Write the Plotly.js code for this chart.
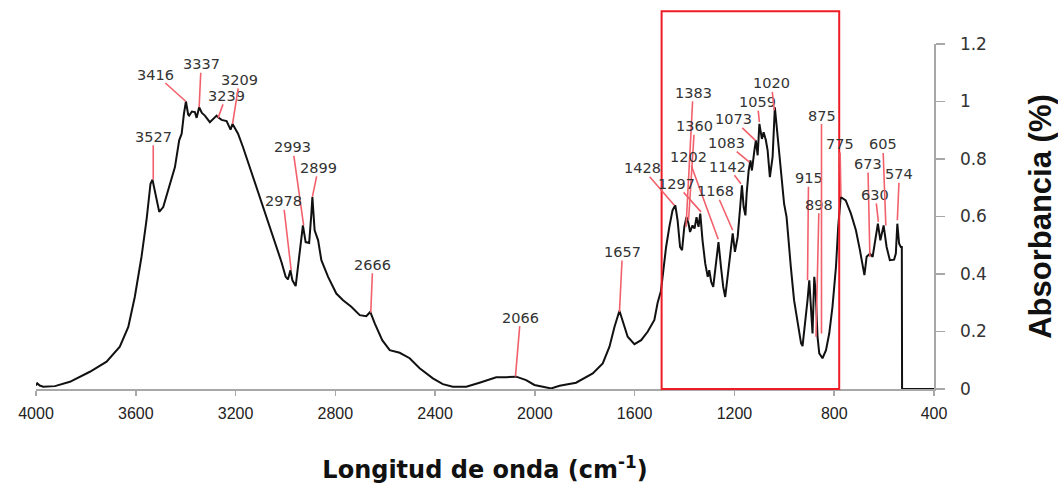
<!DOCTYPE html>
<html>
<head>
<meta charset="utf-8">
<script src="https://cdn.plot.ly/plotly-3.0.1.min.js"></script>
<style>
html,body{margin:0;padding:0;background:#fff;}
#chart{width:1058px;height:487px;}
</style>
</head>
<body>
<div id="chart"></div>
<script>
// Spectrum
const wavenumber = [4000,3995,3985,3971,3924,3864,3784,3717,3664,3630,3604,3577,3557,3541,3533,3519,3506,3490,3463,3443,3426,3416,3407,3399,3390,3386,3375,3363,3356,3346,3335,3323,3303,3290,3276,3270,3256,3236,3220,3212,3190,3170,3143,3116,3096,3070,3043,3016,2999,2990,2980,2972,2959,2950,2939,2930,2919,2905,2896,2892,2883,2869,2856,2829,2796,2769,2736,2702,2676,2660,2642,2628,2612,2582,2542,2502,2462,2409,2369,2329,2275,2222,2155,2115,2075,2035,2002,1968,1935,1901,1835,1768,1728,1701,1681,1661,1645,1628,1601,1574,1548,1521,1508,1495,1488,1474,1461,1448,1437,1428,1418,1410,1401,1392,1384,1378,1368,1360,1352,1344,1337,1328,1317,1307,1301,1293,1285,1274,1264,1254,1245,1237,1227,1218,1207,1198,1187,1177,1170,1163,1156,1151,1143,1136,1130,1120,1114,1107,1100,1090,1083,1074,1067,1058,1047,1038,1031,1021,1007,1001,991,983,974,961,947,933,927,916,907,900,894,887,880,874,867,860,847,833,820,807,793,784,774,754,733,713,697,686,679,670,657,646,636,625,615,602,590,577,560,553,547,540,533,529,528,400];
const absorbance = [0.012,0.02,0.012,0.008,0.01,0.025,0.06,0.095,0.147,0.216,0.32,0.46,0.587,0.714,0.728,0.668,0.616,0.633,0.714,0.772,0.865,0.888,0.957,1.0,0.955,0.951,0.965,0.963,0.943,0.98,0.96,0.951,0.928,0.94,0.951,0.945,0.936,0.932,0.902,0.922,0.888,0.841,0.772,0.702,0.65,0.587,0.517,0.442,0.39,0.381,0.413,0.378,0.358,0.425,0.506,0.569,0.511,0.508,0.61,0.668,0.552,0.517,0.448,0.39,0.332,0.309,0.286,0.257,0.253,0.268,0.228,0.2,0.17,0.135,0.126,0.107,0.072,0.037,0.017,0.008,0.008,0.022,0.041,0.041,0.043,0.031,0.014,0.008,0.002,0.011,0.022,0.054,0.089,0.147,0.216,0.272,0.228,0.182,0.156,0.17,0.199,0.24,0.3,0.34,0.39,0.494,0.564,0.622,0.639,0.587,0.494,0.483,0.564,0.598,0.575,0.546,0.569,0.558,0.598,0.564,0.61,0.517,0.436,0.39,0.413,0.372,0.355,0.448,0.511,0.425,0.355,0.32,0.39,0.46,0.541,0.477,0.529,0.633,0.708,0.633,0.604,0.68,0.76,0.795,0.76,0.83,0.865,0.813,0.922,0.87,0.893,0.865,0.83,0.737,0.807,0.98,0.911,0.818,0.68,0.645,0.598,0.529,0.425,0.309,0.228,0.159,0.149,0.228,0.309,0.378,0.286,0.193,0.39,0.332,0.182,0.124,0.107,0.135,0.193,0.286,0.425,0.564,0.668,0.656,0.61,0.552,0.483,0.425,0.396,0.46,0.471,0.46,0.517,0.575,0.517,0.569,0.494,0.448,0.45,0.471,0.575,0.506,0.494,0.494,0,0];

// Peak labels: text, wavenumber and absorbance where each red leader line ends
const peakLabels = ['3527','3416','3337','3239','3209','2993','2978','2899','2666','2066','1657','1428','1383','1360','1297','1202','1168','1142','1083','1073','1059','1020','915','898','875','775','673','630','605','574'];
const peakX = [3530,3399,3346,3270,3212,2927,2977,2892,2658,2078,1661,1441,1394,1384,1334,1265,1207,1174,1140,1116,1100,1040,907,873,851,773,657,623,593,547];
const peakY = [0.728,1.0,0.98,0.943,0.922,0.569,0.413,0.668,0.265,0.043,0.268,0.639,0.564,0.587,0.616,0.521,0.552,0.714,0.789,0.865,0.928,0.969,0.378,0.182,0.193,0.668,0.459,0.581,0.569,0.587];

// Highlighted region (wavenumber range)
const regionRange = [1492, 780];

// Axis ticks
const xTicks = [4000,3600,3200,2800,2400,2000,1600,1200,800,400];
const yTicks = [0,0.2,0.4,0.6,0.8,1,1.2];

// Layout-only: pixel offsets of each label from its leader-line end
const labelDX = [0,-30,2,8,7,-11,-8,6,2,5,3,-32,7,6,-25,-30,-17,-13,-23,-22,-2,-3,1,3,0,-1,-2,-3,-3,2];
const labelDY = [-43,-27,-43,-22,-44,-78,-69,-29,-48,-59,-60,-37,-134,-94,-28,-82,-39,-17,-19,-21,-20,-27,-102,-132,-218,-53,-93,-27,-81,-46];

const trace = {
  x: wavenumber, y: absorbance, type: 'scatter', mode: 'lines',
  line: {color: '#111111', width: 2}, hoverinfo: 'skip', cliponaxis: false
};

const annotations = peakLabels.map((t, i) => ({
  x: peakX[i], y: peakY[i], xref: 'x', yref: 'y',
  text: t, showarrow: true, arrowhead: 0, arrowwidth: 1.6, arrowcolor: '#f2616b',
  ax: labelDX[i], ay: labelDY[i], standoff: 0, borderpad: 0,
  font: {family: 'DejaVu Sans, Arial, sans-serif', size: 14.5, color: '#333333'}
}));

const layout = {
  width: 1058, height: 487,
  margin: {l: 36, r: 124, t: 43.5, b: 98, pad: 0},
  paper_bgcolor: '#ffffff', plot_bgcolor: '#ffffff',
  showlegend: false,
  xaxis: {
    range: [4000, 400], tickvals: xTicks, ticktext: xTicks.map(String),
    showgrid: false, zeroline: false, showline: true, linecolor: '#a8a8a8', linewidth: 1.5,
    ticks: 'outside', ticklen: 5, tickcolor: '#a8a8a8', tickwidth: 1.5,
    tickfont: {family: 'Liberation Sans Narrow, Arial Narrow, Liberation Sans, Arial, sans-serif', size: 16, color: '#222222'},
    ticklabelstandoff: 4,
    title: {text: 'Longitud de onda (cm<sup>-1</sup>)', standoff: 40,
      font: {family: 'DejaVu Sans, Arial, sans-serif', size: 24, color: '#111111', weight: 'bold'}},
    fixedrange: true
  },
  yaxis: {
    range: [0, 1.2], side: 'right', tickvals: yTicks,
    showgrid: false, zeroline: false, showline: true, linecolor: '#a8a8a8', linewidth: 1.5,
    ticks: 'outside', ticklen: 9, tickcolor: '#a8a8a8', tickwidth: 1.5,
    tickfont: {family: 'DejaVu Sans, Arial, sans-serif', size: 17, color: '#333333'},
    ticklabelstandoff: 12,
    title: {text: 'Absorbancia (%)', standoff: 44,
      font: {family: 'Liberation Sans, Arial, sans-serif', size: 31, color: '#111111', weight: 'bold'}},
    fixedrange: true
  },
  shapes: [{
    type: 'rect', xref: 'x', yref: 'paper', x0: regionRange[0], x1: regionRange[1], y0: 0, y1: 1.095,
    line: {color: '#ee1c24', width: 2}, fillcolor: 'rgba(0,0,0,0)'
  }],
  annotations: annotations
};

Plotly.newPlot('chart', [trace], layout, {displayModeBar: false, staticPlot: true});
</script>
</body>
</html>
